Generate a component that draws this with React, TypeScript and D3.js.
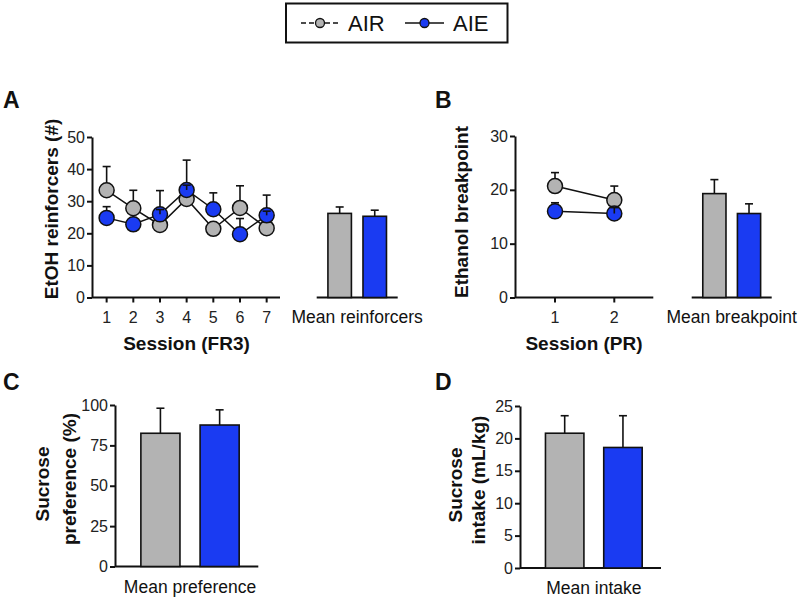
import { useEffect, useRef } from "react"
import * as d3 from "d3"

const FONT = "'Liberation Sans', Arial, Helvetica, sans-serif"

const groups = ["AIR", "AIE"]
const groupFill = ["#b3b3b3", "#1a3bf2"]

// A: FR3 sessions
const frSessions = [1, 2, 3, 4, 5, 6, 7]
const frAIR = [33.4, 27.8, 22.6, 30.7, 21.4, 27.9, 21.6]
const frAIRErr = [7.4, 5.6, 10.7, 12.1, 1.8, 6.9, 10.3]
const frAIE = [24.8, 22.8, 25.9, 33.5, 27.5, 19.7, 25.6]
const frAIEErr = [3.5, 3.5, 1.5, 1.5, 5.1, 4.9, 1.3]
const frTicks = [0, 10, 20, 30, 40, 50]
const meanReinforcers = [26.2, 25.3]
const meanReinforcersErr = [2.0, 1.9]

// B: PR sessions
const prSessions = [1, 2]
const prAIR = [20.7, 18.1]
const prAIRErr = [2.5, 2.6]
const prAIE = [16.0, 15.6]
const prAIEErr = [1.6, 1.1]
const prTicks = [0, 10, 20, 30]
const meanBreakpoint = [19.3, 15.6]
const meanBreakpointErr = [2.6, 1.8]

// C: sucrose preference
const prefTicks = [0, 25, 50, 75, 100]
const sucrosePref = [82.5, 87.6]
const sucrosePrefErr = [15.5, 9.4]

// D: sucrose intake
const intakeTicks = [0, 5, 10, 15, 20, 25]
const sucroseIntake = [20.8, 18.6]
const sucroseIntakeErr = [2.7, 4.9]

const R = 7.5

export default function App() {
  const svgRef = useRef<SVGSVGElement>(null)

  useEffect(() => {
    const svg = d3.select(svgRef.current)
    svg.selectAll("*").remove()

    svg.append("rect").attr("width", 800).attr("height", 599).attr("fill", "white")

    const text = (x: number, y: number, s: string, size: number, weight = "normal", anchor = "start") =>
      svg.append("text")
        .attr("x", x).attr("y", y)
        .attr("font-family", FONT)
        .attr("font-size", size)
        .attr("font-weight", weight)
        .attr("text-anchor", anchor)
        .attr("fill", "#111")
        .text(s)

    const vText = (x: number, y: number, s: string, size: number) =>
      svg.append("text")
        .attr("transform", `translate(${x},${y}) rotate(-90)`)
        .attr("font-family", FONT)
        .attr("font-size", size)
        .attr("font-weight", "bold")
        .attr("text-anchor", "middle")
        .attr("fill", "#111")
        .text(s)

    const yAxis = (x: number, scale: d3.ScaleLinear<number, number>, ticks: number[]) => {
      const ax = svg.append("g")
        .attr("transform", `translate(${x},0)`)
        .call(d3.axisLeft(scale).tickValues(ticks).tickSize(5).tickSizeOuter(0).tickPadding(2))
      ax.attr("font-family", null).attr("font-size", null)
      ax.select(".domain").attr("stroke", "#111").attr("stroke-width", 2)
      ax.selectAll(".tick line").attr("stroke", "#111").attr("stroke-width", 2)
      ax.selectAll(".tick text")
        .attr("font-family", FONT).attr("font-size", 16).attr("fill", "#222")
    }

    const xAxisLine = (x0: number, x1: number, y: number) =>
      svg.append("line")
        .attr("x1", x0).attr("x2", x1).attr("y1", y).attr("y2", y)
        .attr("stroke", "#111").attr("stroke-width", 2)

    const sessionAxis = (x0: number, x1: number, y: number, scale: d3.ScaleLinear<number, number>, ticks: number[]) => {
      xAxisLine(x0, x1, y)
      ticks.forEach(t => {
        svg.append("line")
          .attr("x1", scale(t)).attr("x2", scale(t)).attr("y1", y).attr("y2", y + 5)
          .attr("stroke", "#111").attr("stroke-width", 2)
        text(scale(t), y + 25.5, String(t), 16, "normal", "middle").attr("fill", "#222")
      })
    }

    const errBar = (x: number, yTop: number, yEnd: number) => {
      svg.append("line").attr("x1", x).attr("x2", x).attr("y1", yTop).attr("y2", yEnd)
        .attr("stroke", "#111").attr("stroke-width", 1.6)
      svg.append("line").attr("x1", x - 4).attr("x2", x + 4).attr("y1", yEnd).attr("y2", yEnd)
        .attr("stroke", "#111").attr("stroke-width", 1.6)
    }

    const meanBars = (
      x0: number, x1: number,
      y: d3.ScaleLinear<number, number>,
      values: number[], errs: number[],
      pi: number, po: number, align: number
    ) => {
      const band = d3.scaleBand<string>().domain(groups).range([x0, x1])
        .paddingInner(pi).paddingOuter(po).align(align)
      xAxisLine(x0, x1, y(0))
      groups.forEach((gName, i) => {
        const bx = band(gName)!
        errBar(bx + band.bandwidth() / 2, y(values[i]), y(values[i] + errs[i]))
        svg.append("rect")
          .attr("x", bx).attr("y", y(values[i]))
          .attr("width", band.bandwidth()).attr("height", y(0) - y(values[i]))
          .attr("fill", groupFill[i]).attr("stroke", "#111").attr("stroke-width", 1.6)
      })
      return band
    }

    const linePlot = (
      x: d3.ScaleLinear<number, number>, y: d3.ScaleLinear<number, number>,
      sessions: number[], series: number[][], errs: number[][]
    ) => {
      const line = d3.line<number>().x((_, i) => x(sessions[i])).y(d => y(d))
      series.forEach(s => {
        svg.append("path").attr("d", line(s)!).attr("fill", "none")
          .attr("stroke", "#111").attr("stroke-width", 1.5)
      })
      // error bars behind the markers
      series.forEach((s, k) =>
        s.forEach((v, i) => errBar(x(sessions[i]), y(v), y(v + errs[k][i])))
      )
      series.forEach((s, k) => {
        svg.append("g").selectAll("circle").data(s).join("circle")
          .attr("cx", (_, i) => x(sessions[i])).attr("cy", d => y(d)).attr("r", R)
          .attr("fill", groupFill[k]).attr("stroke", "#111").attr("stroke-width", 1.5)
      })
      // short AIE bars whose cap sits inside the marker stay visible on top
      series[1].forEach((v, i) => {
        if (y(v) - y(v + errs[1][i]) < R) errBar(x(sessions[i]), y(v), y(v + errs[1][i]))
      })
    }

    // ---------- Legend ----------
    svg.append("rect").attr("x", 286).attr("y", 3.5).attr("width", 221.5).attr("height", 39)
      .attr("fill", "white").attr("stroke", "#111").attr("stroke-width", 2)
    svg.append("line").attr("x1", 301).attr("x2", 339).attr("y1", 23).attr("y2", 23)
      .attr("stroke", "#111").attr("stroke-width", 1.5).attr("stroke-dasharray", "5,3")
    svg.append("circle").attr("cx", 320).attr("cy", 23).attr("r", 4.5)
      .attr("fill", groupFill[0]).attr("stroke", "#111").attr("stroke-width", 1.3)
    text(348, 31, groups[0], 22)
    svg.append("line").attr("x1", 405).attr("x2", 444).attr("y1", 23).attr("y2", 23)
      .attr("stroke", "#111").attr("stroke-width", 1.5)
    svg.append("circle").attr("cx", 424.5).attr("cy", 23).attr("r", 4.5)
      .attr("fill", groupFill[1]).attr("stroke", "#111").attr("stroke-width", 1.3)
    text(453, 31, groups[1], 22)

    // ---------- Panel A ----------
    text(3, 108, "A", 23, "bold")
    const yA = d3.scaleLinear().domain([0, 50]).range([297.5, 137])
    const xA = d3.scaleLinear().domain([0.5, 7.5]).range([93.3, 280])
    linePlot(xA, yA, frSessions, [frAIR, frAIE], [frAIRErr, frAIEErr])
    sessionAxis(92, 280, yA(0), xA, frSessions)
    yAxis(92, yA, frTicks)
    vText(58, 209, "EtOH reinforcers (#)", 19)
    text(186.5, 350, "Session (FR3)", 19, "bold", "middle")
    meanBars(316.7, 397.7, yA, meanReinforcers, meanReinforcersErr, 0.33, 0.32, 0.5)
    text(357.2, 323, "Mean reinforcers", 17.5, "normal", "middle")

    // ---------- Panel B ----------
    text(435, 108, "B", 23, "bold")
    const yB = d3.scaleLinear().domain([0, 30]).range([297.5, 136])
    const xB = d3.scaleLinear().domain([1, 2]).range([555, 614.3])
    linePlot(xB, yB, prSessions, [prAIR, prAIE], [prAIRErr, prAIEErr])
    sessionAxis(515, 653.3, yB(0), xB, prSessions)
    yAxis(515, yB, prTicks)
    vText(468, 212, "Ethanol breakpoint", 19)
    text(584, 350, "Session (PR)", 19, "bold", "middle")
    meanBars(691.7, 771.7, yB, meanBreakpoint, meanBreakpointErr, 0.33, 0.32, 0.5)
    text(731.7, 323, "Mean breakpoint", 17.5, "normal", "middle")

    // ---------- Panel C ----------
    text(3, 390, "C", 23, "bold")
    const yC = d3.scaleLinear().domain([0, 100]).range([566.5, 405])
    const bandC = meanBars(115, 258.3, yC, sucrosePref, sucrosePrefErr, 0.34, 0.38, 0.575)
    yAxis(115, yC, prefTicks)
    vText(49, 484, "Sucrose", 19)
    vText(76, 479, "preference (%)", 19)
    const cMid = (bandC(groups[0])! + bandC(groups[1])! + bandC.bandwidth()) / 2
    text(cMid, 592.5, "Mean preference", 17.5, "normal", "middle")

    // ---------- Panel D ----------
    text(435, 390, "D", 23, "bold")
    const yD = d3.scaleLinear().domain([0, 25]).range([568, 406])
    const bandD = meanBars(520, 661, yD, sucroseIntake, sucroseIntakeErr, 0.34, 0.38, 0.575)
    yAxis(520, yD, intakeTicks)
    vText(461.5, 485, "Sucrose", 19)
    vText(484.5, 480, "intake (mL/kg)", 19)
    const dMid = (bandD(groups[0])! + bandD(groups[1])! + bandD.bandwidth()) / 2
    text(dMid, 593.5, "Mean intake", 17.5, "normal", "middle")
  }, [])

  return (
    <svg
      ref={svgRef}
      width={800}
      height={599}
      style={{ position: "absolute", left: 0, top: 0 }}
    />
  )
}
